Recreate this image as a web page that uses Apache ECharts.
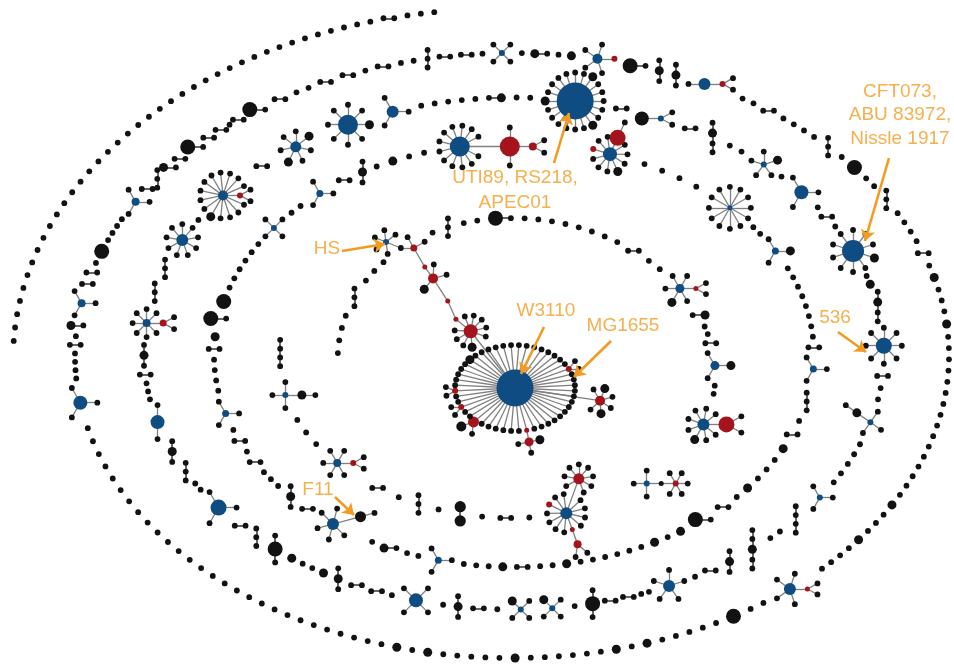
<!DOCTYPE html>
<html>
<head>
<meta charset="utf-8">
<script src="https://cdn.jsdelivr.net/npm/echarts@6/dist/echarts.min.js"></script>
<style>
  html, body { margin: 0; padding: 0; background: #ffffff; }
  #chart { width: 954px; height: 664px; }
</style>
</head>
<body>
<div id="chart"></div>
<script>
// ---------------------------------------------------------------------------
// Components of the strain network, listed in the order they sit on each ring.
// Tokens:  .  o  O        single genome (small / medium / large)
//          -  o-  O-  -o  two linked genomes, drawn side by side
//          :3  :4o  :3O   a chain of n genomes, drawn top to bottom
//          X  Xo          small blue hub with four leaves
//          b14/6o1r1+r6/2 hub (colour, weight) / leaves, big leaves, red leaves,
//                         then attached sub-hubs (+), new branch from hub (&)
//          _              empty slot on the ring
//          ^              component whose place on the ring is fixed (see RINGS pins)
// ---------------------------------------------------------------------------
const outerArc =
  '. . . . . . . . . . . . . . . . . . . . . . . . . . . . . . . . . . . . . . . - . . .';

const ring2 =
  ':3 - - . ^X . o- . o ^b10/4+r6/0 O- :3o :3o b12/1+r6/2 . . - . . . . :3 . ^O . . :3 ' +
  '. . . . - . o . . . o . . . . . . . . . . . . . . . . o . . . o . . . . ' +
  '^b12/4+r5/2 . . O . . . . . o . o . . . . . . o . . . . . o . o . . . . ' +
  '. . . . . . . . . . . . . . . . . . . . . . . . ' +
  '^b14/3 . . . . - . o- b8/3 - - . O . . . . ^b8/3 - :3 o- - ^O- - - . - ^O- - . . - - . - . .';

const ring3 =
  'b20/8o1 b12/3 . . . . . -o . . ^b37/20o3 - b6/2+k14/0@180 - :4o . . ^b6/5o1 . b14/3 . - . ' +
  '^b22/10o1 . o :4o ^b16/8 - . . b6/3+k9/1@-145 . . . . . b6/3 :4 . . :5o :3o - . ^b12/5 . . - - ' +
  '^:3O . Xo Xo . - :3o . ^b14/4 . - - :3o o . . o :3O :3 - ^b16/3 . . :3 :3o b14/2 . . . - :3o ' +
  '^b8/7+r7/2 :3 :3 b12/9 . ^b10/14o1+r6/2 - b11/7o2';

const ring4 =
  '. o . . ^b20/12+r20/2=30+r8/2 ^b14/10o1r1+r16/1=3@-65 . . . . ^b5/12 . . ^b7/3o1 . . . . . . . . - ' +
  '^b7/3 :3 . - o . . . o . - O- o . o . . . . . . o . . - o . . . ^b7/3 . . o- . ^b12/5+k11/1=17@-15 - :3o ' +
  '. . . - . - . ^b7/3 . . . . - o O- O . . . . . . ^X . . b7/3 - :3o';

const ring5 =
  '. . . . :3 . . . _ _ _ ^. :3 . . O- . . . . . . . . - . . ^b9/5o1+r5/2 -o . . - b9/3o1 . . ' +
  '^b12/8o1+r16/2 ^b6/3+k5/0+r6/5 ^b12/11r1+r11/8=25@-70&r5/0@70+r8/2 . - . :2O . :3 . - ' +
  '^b8/5+r6/2 . . . ^b6/3+k9/1 :4';

// The central component around W3110 / MG1655: one character per spoke of the hub,
// clockwise from the right (. leaf, o large leaf, r red leaf, R large red, q red pair)
const hubSpokes = '..........q......R..r..r.....o..............r...';
// Chain running from the hub up to HS: colour, weight, leaves, big leaves
const hsBranch = [['r', 14, 9, 1], ['r', 5, 0, 0], ['r', 5, 0, 0], ['r', 10, 3, 1],
                  ['r', 5, 0, 0], ['r', 7, 2, 0], ['k', 5.8, 0, 0], ['b', 6, 5, 0]];
const rightBranch = ['r', 10, 6, 2];

// Annotations
const labelTexts = ['UTI89, RS218,\nAPEC01', 'CFT073,\nABU 83972,\nNissle 1917', 'HS', 'W3110', 'MG1655', '536', 'F11'];

// ---------------------------------------------------------------------------
// Layout settings (ellipse centre, radii, parameter range, fixed angles in degrees)
// ---------------------------------------------------------------------------
const TAU = Math.PI * 2;
const RINGS = [
  { tokens: outerArc, cx: 500, cy: 360, a0: 487, a1: 487, b0: 351, b1: 351, t0: 3.196, t1: 4.577, closed: false, pins: [] },
  { tokens: ring2, cx: 512, cy: 355.5, a0: 437, a1: 437, b0: 302.5, b1: 302.5, t0: 4.518, t1: 4.518 + TAU, closed: true,
    pins: [268.7, 281.3, 321.6, 410.5, 531.0, 570.5, 583.6, 594.4] },
  { tokens: ring3, cx: 514, cy: 353.5, a0: 370, a1: 370, b0: 256, b1: 256, t0: 4.247, t1: 4.247 + TAU, closed: true,
    pins: [279.5, 312.5, 336.4, 358.3, 425.2, 437.7, 465.4, 503.0, 546.8, 578.1] },
  { tokens: ring4, cx: 514, cy: 355, a0: 300, a1: 300, b0: 212, b1: 212, t0: 4.237, t1: 4.237 + TAU, closed: true,
    pins: [259.6, 288.7, 316.0, 330.6, 363.8, 464.6, 487.1, 524.0, 576.8] },
  { tokens: ring5, cx: 512, cy: 368, a0: 175, a1: 233, b0: 150, b1: 150, t0: Math.PI + 0.1, t1: 3 * Math.PI + 0.1, closed: false,
    pins: [244.5, 328, 382.1, 410.4, 435.4, 500.7, 529.6] }
];
const HUB_AT = [515, 388];
const HUB_LEAF_RX = 60, HUB_LEAF_RY = 43;
const HS_STEPS = [[72, -128], [19, -141], [20, -114], [27, -123], [14, -126], [22, -120], [13, 180], [16, -158]];
const RIGHT_STEP = [86, 8.5];
const LABEL_AT = [[515, 190], [900, 115], [327, 249], [546, 311], [623, 326], [835, 318], [318, 490]];
const LABEL_LH = [25, 23.5, 20, 20, 20, 20, 20];
const ARROWS = [
  [[554, 163], [569, 113]], [[889, 158], [865, 241]], [[342, 251], [385, 244]],
  [[544, 327], [521, 374]], [[611, 341], [574, 377]], [[838, 332], [866, 352]], [[335, 497], [354, 515]]
];

const DOT = { '.': 5.8, 'o': 9, 'O': 15 };
const COL = { b: '#0f4c82', r: '#a3141c', k: '#121212' };
const ORANGE = '#f29b21';
const EDGE = { c: { color: '#333333', width: 1.5 }, s: { color: '#808080', width: 1.3 } };

// ---------------------------------------------------------------------------
// Component geometry (relative to the component's anchor)
// ---------------------------------------------------------------------------
function fanAngles(n, occ) {
  if (n <= 0) return [];
  if (occ.length === 1 && n <= 2) {
    const f = occ[0] + Math.PI;
    return n === 1 ? [f] : [f - 0.5, f + 0.5];
  }
  const slots = n + occ.length;
  const base = occ.length ? occ[0] : (n === 4 ? Math.PI / 4 : (n === 3 ? 0 : -Math.PI / 2));
  const angs = [];
  for (let k = 0; k < slots; k++) angs.push(base + TAU * k / slots);
  occ.forEach(o => {
    let bi = -1, bd = 1e9;
    angs.forEach((a, i) => {
      const d = Math.abs(Math.atan2(Math.sin(a - o), Math.cos(a - o)));
      if (d < bd) { bd = d; bi = i; }
    });
    if (bi >= 0) angs.splice(bi, 1);
  });
  return angs.slice(0, n);
}

function pickSpread(n, count, shift) {
  const set = new Set();
  for (let j = 0; j < count; j++) set.add(Math.floor((j + shift) * n / count) % n);
  return set;
}

function parseAtt(s) {
  const m = s.match(/^([bkr])([\d.]+)\/(\d+)(?:=(\d+))?(?:@(-?\d+))?$/);
  return { col: m[1], size: +m[2], leaves: +m[3], gap: m[4] ? +m[4] : 9, dir: m[5] ? +m[5] : 0 };
}

function component(tok) {
  const ns = [], ls = [];
  const add = (x, y, s, c) => { ns.push({ x, y, s, c }); return ns.length - 1; };
  const link = (a, b, kind) => ls.push([a, b, kind]);
  if (tok === '_') return { ns, ls, pad: 8 };
  if (tok in DOT) { add(0, 0, DOT[tok], COL.k); return { ns, ls }; }
  let m = tok.match(/^([.oO]?)-([.oO]?)$/);
  if (m) {
    const s1 = DOT[m[1] || '.'], s2 = DOT[m[2] || '.'];
    const d = s1 / 2 + s2 / 2 + 5;
    link(add(-d / 2, 0, s1, COL.k), add(d / 2, 0, s2, COL.k), 'c');
    return { ns, ls };
  }
  m = tok.match(/^:(\d)([oO]?)$/);
  if (m) {
    const n = +m[1];
    const sizes = Array(n).fill(DOT['.']);
    if (m[2]) {
      if (n === 2) sizes.fill(DOT[m[2]] * 0.75);
      else sizes[n === 4 ? 1 : Math.floor((n - 1) / 2)] = DOT[m[2]];
    }
    const ys = [];
    let y = 0;
    for (let i = 0; i < n; i++) { if (i) y += sizes[i - 1] / 2 + sizes[i] / 2 + 3; ys.push(y); }
    let prev = -1;
    for (let i = 0; i < n; i++) {
      const id = add(0, ys[i] - y / 2, sizes[i], COL.k);
      if (prev >= 0) link(prev, id, 'c');
      prev = id;
    }
    return { ns, ls };
  }
  m = tok.match(/^X(o?)$/);
  if (m) {
    const hub = add(0, 0, 6, COL.b);
    [Math.PI / 4, 3 * Math.PI / 4, 5 * Math.PI / 4, 7 * Math.PI / 4].forEach(a => {
      const big = m[1] && a === 5 * Math.PI / 4;
      link(hub, add(12 * Math.cos(a), 12 * Math.sin(a), big ? 9 : DOT['.'], COL.k), 's');
    });
    return { ns, ls };
  }
  m = tok.match(/^([bkr])(\d+)\/(\d+)((?:[or]\d+)*)(.*)$/);
  if (m) {
    const col = m[1], h = +m[2], n = +m[3];
    const big = +((m[4].match(/o(\d+)/) || [0, 0])[1]);
    const red = +((m[4].match(/r(\d+)/) || [0, 0])[1]);
    const chains = m[5] ? m[5].split('&').map(c => c.replace(/^\+/, '').split('+').map(parseAtt)) : [];
    const hub = add(0, 0, h, COL[col]);
    const dirs = chains.map(ch => ch[0].dir * Math.PI / 180);
    const R = Math.max(h / 2 + 10, Math.min(n * 11 / TAU, 23));
    const bigSet = pickSpread(n, big, 0.3);
    const redSet = pickSpread(n, red, 0.75);
    fanAngles(n, dirs).forEach((a, i) => {
      let s = DOT['.'], c = COL.k, r = R;
      if (bigSet.has(i)) { s = 9; r = R + 1.5; }
      else if (redSet.has(i)) { s = 6; c = COL.r; }
      link(hub, add(r * Math.cos(a), r * Math.sin(a), s, c), 's');
    });
    chains.forEach((ch, ci) => {
      let px = 0, py = 0, ps = h, prev = hub;
      const dir = dirs[ci];
      ch.forEach((att, j) => {
        const d = ps / 2 + att.size / 2 + att.gap;
        px += d * Math.cos(dir); py += d * Math.sin(dir);
        const id = add(px, py, att.size, COL[att.col]);
        link(prev, id, 's');
        const occ = [dir + Math.PI];
        if (j < ch.length - 1) occ.push(dir);
        fanAngles(att.leaves, occ).forEach(la => {
          const r = att.size / 2 + 9;
          link(id, add(px + r * Math.cos(la), py + r * Math.sin(la), DOT['.'], COL.k), 's');
        });
        prev = id; ps = att.size;
      });
    });
    return { ns, ls };
  }
  throw new Error('unknown token ' + tok);
}

function centreComponent() {
  const ns = [], ls = [];
  const add = (x, y, s, c) => { ns.push({ x, y, s, c }); return ns.length - 1; };
  const link = (a, b, kind) => ls.push([a, b, kind]);
  const hub = add(0, 0, 37, COL.b);
  const n = hubSpokes.length;
  [...hubSpokes].forEach((ch, k) => {
    const th = TAU * k / n + 0.065;
    const ux = Math.cos(th), uy = Math.sin(th);
    const x = HUB_LEAF_RX * ux, y = HUB_LEAF_RY * uy;
    if (ch === '.' || ch === 'o') { link(hub, add(x, y, DOT[ch], COL.k), 's'); return; }
    if (ch === 'r') {
      const r = add(x, y, 6, COL.r); link(hub, r, 's');
      [-0.45, 0.45].forEach(d => link(r, add(x + 10 * Math.cos(th + d), y + 10 * Math.sin(th + d), DOT['.'], COL.k), 's'));
    } else if (ch === 'R') {
      const rx = x * 1.05, ry = y * 1.05;
      const r = add(rx, ry, 11, COL.r); link(hub, r, 's');
      link(r, add(rx + 13 * Math.cos(th + 0.5), ry + 13 * Math.sin(th + 0.5), 10, COL.k), 's');
      link(r, add(rx + 12 * Math.cos(th - 0.6), ry + 12 * Math.sin(th - 0.6), DOT['.'], COL.k), 's');
    } else if (ch === 'q') {
      const r1 = add(x, y, 5, COL.r); link(hub, r1, 's');
      const x2 = x + 12 * ux, y2 = y + 12 * uy;
      const r2 = add(x2, y2, 9, COL.r); link(r1, r2, 's');
      fanAngles(3, [th + Math.PI]).forEach((a, i) =>
        link(r2, add(x2 + 11 * Math.cos(a), y2 + 11 * Math.sin(a), i === 0 ? 9 : DOT['.'], COL.k), 's'));
    }
  });
  // the long branch to the right
  {
    const a = RIGHT_STEP[1] * Math.PI / 180;
    const px = RIGHT_STEP[0] * Math.cos(a), py = RIGHT_STEP[0] * Math.sin(a);
    const id = add(px, py, rightBranch[1], COL[rightBranch[0]]);
    link(hub, id, 's');
    fanAngles(rightBranch[2], [a + Math.PI]).forEach((la, j) => {
      const s = j % 3 === 1 && j < rightBranch[3] * 3 ? 9 : DOT['.'];
      link(id, add(px + 13 * Math.cos(la), py + 13 * Math.sin(la), s, COL.k), 's');
    });
  }
  // the chain up to HS
  let px = 0, py = 0, prev = hub;
  hsBranch.forEach((b, i) => {
    const a = HS_STEPS[i][1] * Math.PI / 180;
    px += HS_STEPS[i][0] * Math.cos(a); py += HS_STEPS[i][0] * Math.sin(a);
    const id = add(px, py, b[1], COL[b[0]]);
    link(prev, id, 's');
    const occ = [a + Math.PI];
    if (i < hsBranch.length - 1) occ.push(HS_STEPS[i + 1][1] * Math.PI / 180);
    fanAngles(b[2], occ).forEach((la, j) => {
      const s = j < b[3] ? 9 : DOT['.'];
      const r = b[1] / 2 + 9;
      link(id, add(px + r * Math.cos(la), py + r * Math.sin(la), s, COL.k), 's');
    });
    prev = id;
  });
  return { ns, ls };
}

// ---------------------------------------------------------------------------
// Ring placement: components are spread evenly between fixed points of each ellipse
// ---------------------------------------------------------------------------
function ringCurve(g) {
  const N = 4000, pts = [], cum = [0];
  for (let i = 0; i <= N; i++) {
    const u = i / N, t = g.t0 + (g.t1 - g.t0) * u;
    const a = g.a0 + (g.a1 - g.a0) * u, b = g.b0 + (g.b1 - g.b0) * u;
    pts.push([g.cx + a * Math.cos(t), g.cy + b * Math.sin(t)]);
    if (i) cum.push(cum[i - 1] + Math.hypot(pts[i][0] - pts[i - 1][0], pts[i][1] - pts[i - 1][1]));
  }
  return { pts, cum, L: cum[N] };
}

function pointAt(c, s, closed) {
  if (closed) s = ((s % c.L) + c.L) % c.L; else s = Math.max(0, Math.min(c.L, s));
  let lo = 0, hi = c.cum.length - 1;
  while (hi - lo > 1) { const mid = (lo + hi) >> 1; if (c.cum[mid] <= s) lo = mid; else hi = mid; }
  const f = (s - c.cum[lo]) / Math.max(1e-9, c.cum[hi] - c.cum[lo]);
  const p = c.pts[lo], q = c.pts[hi];
  const len = Math.hypot(q[0] - p[0], q[1] - p[1]) || 1;
  return { x: p[0] + (q[0] - p[0]) * f, y: p[1] + (q[1] - p[1]) * f, t: [(q[0] - p[0]) / len, (q[1] - p[1]) / len] };
}

function extent(comp, t) {
  if (comp.pad) return { lo: -comp.pad / 2, hi: comp.pad / 2 };
  let lo = 1e9, hi = -1e9;
  comp.ns.forEach(nd => {
    const p = nd.x * t[0] + nd.y * t[1];
    lo = Math.min(lo, p - nd.s / 2); hi = Math.max(hi, p + nd.s / 2);
  });
  return { lo, hi };
}

const nodes = [], links = [];
function emit(comp, ox, oy) {
  const base = nodes.length;
  comp.ns.forEach(nd => nodes.push({
    value: [ox + nd.x, oy + nd.y], symbolSize: nd.s, itemStyle: { color: nd.c }
  }));
  comp.ls.forEach(([a, b, kind]) => links.push({ source: base + a, target: base + b, lineStyle: EDGE[kind] }));
}

function placeRing(g) {
  const toks = g.tokens.split(/\s+/).filter(Boolean);
  const pinnedIdx = [];
  toks.forEach((t, i) => { if (t[0] === '^') pinnedIdx.push(i); });
  const comps = toks.map(t => component(t.replace(/^\^/, '')));
  const curve = ringCurve(g);
  const n = comps.length;
  const last = curve.cum.length - 1;
  const sOfDeg = d => {
    const idx = Math.round((d * Math.PI / 180 - g.t0) / (g.t1 - g.t0) * last);
    return curve.cum[Math.max(0, Math.min(last, idx))];
  };
  const pins = [[0, 0]];
  pinnedIdx.forEach((ti, k) => pins.push([ti, sOfDeg(g.pins[k])]));
  pins.push(g.closed ? [n, curve.L] : [n - 1, curve.L]);

  let tang = comps.map(() => [1, 0]);
  const anchors = new Array(n).fill(0);
  for (let iter = 0; iter < 5; iter++) {
    const ext = comps.map((c, i) => extent(c, tang[i]));
    const E = i => ext[i % n];
    for (let p = 0; p < pins.length - 1; p++) {
      const [ia, sa] = pins[p], [ib, sb] = pins[p + 1];
      if (ia < n) anchors[ia] = sa;
      let inner = 0;
      for (let k = ia + 1; k < ib; k++) inner += ext[k].hi - ext[k].lo;
      const gap = (sb - sa - E(ia).hi + E(ib).lo - inner) / (ib - ia);
      let cursor = sa + E(ia).hi + gap;
      for (let k = ia + 1; k < ib; k++) {
        anchors[k] = cursor - ext[k].lo;
        cursor += ext[k].hi - ext[k].lo + gap;
      }
    }
    if (!g.closed) anchors[n - 1] = curve.L;
    tang = anchors.map(s => pointAt(curve, s, g.closed).t);
  }
  comps.forEach((c, i) => { const p = pointAt(curve, anchors[i], g.closed); emit(c, p.x, p.y); });
}

RINGS.forEach(placeRing);
emit(centreComponent(), HUB_AT[0], HUB_AT[1]);

// ---------------------------------------------------------------------------
// Chart
// ---------------------------------------------------------------------------
const chart = echarts.init(document.getElementById('chart'), null, { renderer: 'canvas' });
chart.setOption({
  animation: false,
  backgroundColor: '#ffffff',
  grid: { left: 0, right: 0, top: 0, bottom: 0 },
  xAxis: { type: 'value', min: 0, max: 954, show: false },
  yAxis: { type: 'value', min: 0, max: 664, inverse: true, show: false },
  series: [
    {
      type: 'graph',
      coordinateSystem: 'cartesian2d',
      layout: 'none',
      silent: true,
      symbol: 'circle',
      data: nodes,
      links: links,
      lineStyle: { opacity: 1, curveness: 0 },
      itemStyle: { borderWidth: 0 },
      label: { show: false },
      emphasis: { disabled: true }
    },
    {
      type: 'lines',
      coordinateSystem: 'cartesian2d',
      silent: true,
      z: 5,
      symbol: ['none', 'arrow'],
      symbolSize: [0, 11],
      lineStyle: { color: ORANGE, width: 2.6, opacity: 1 },
      data: ARROWS.map(c => ({ coords: c }))
    },
    {
      type: 'scatter',
      silent: true,
      z: 6,
      symbolSize: 0,
      data: labelTexts.map((t, i) => ({
        value: LABEL_AT[i],
        label: { formatter: t, lineHeight: LABEL_LH[i] }
      })),
      label: {
        show: true,
        position: 'inside',
        align: 'center',
        verticalAlign: 'middle',
        color: ORANGE,
        fontSize: 19,
        fontFamily: 'Liberation Sans, Arial, sans-serif'
      }
    }
  ]
});
</script>
</body>
</html>
